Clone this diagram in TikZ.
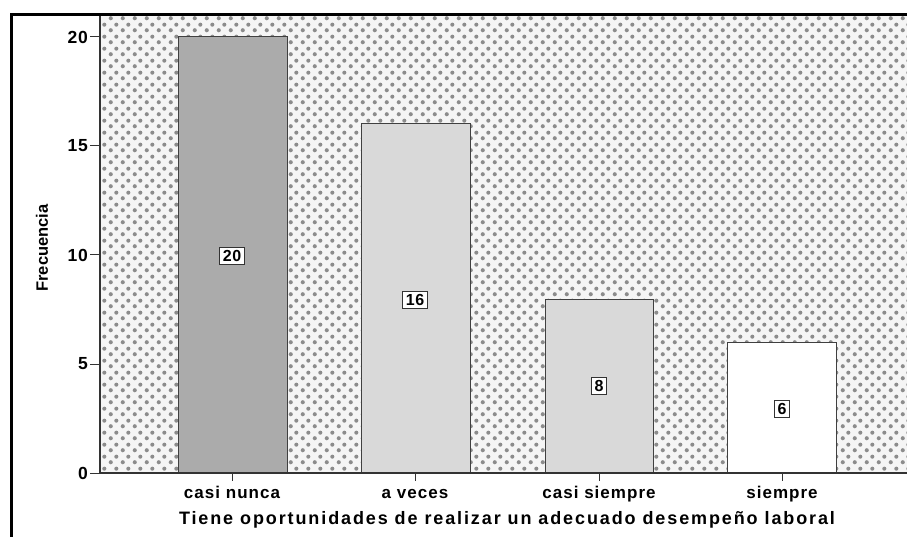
\documentclass[tikz,border=0pt]{standalone}
\usepackage{fontspec}
\setmainfont{Liberation Sans}
\newfontfamily\spssfont[LetterSpace=6]{Liberation Sans}
\newfontfamily\titlefont[LetterSpace=10.5]{Liberation Sans}
\newfontfamily\numfont[LetterSpace=4]{Liberation Sans}
\usetikzlibrary{patterns.meta,positioning}

\pgfdeclarepattern{name=spssdots, type=uncolored,
  bottom left={\pgfpoint{0pt}{0pt}}, top right={\pgfpoint{12pt}{12pt}},
  tile size={\pgfpoint{12pt}{12pt}},
  code={\pgfpathcircle{\pgfpoint{3pt}{3pt}}{2.2pt}
        \pgfpathcircle{\pgfpoint{9pt}{9pt}}{2.2pt}
        \pgfusepath{fill}}}

\tikzset{
  bar/.style={draw=black!75, line width=1pt},
  val/.style={draw=black!80, fill=white, line width=0.8pt, inner sep=3pt,
    font=\numfont\fontsize{16}{16}\selectfont\bfseries},
  ticklab/.style={font=\numfont\fontsize{17.5}{18}\selectfont\bfseries},
  catlab/.style={font=\spssfont\fontsize{17}{18}\selectfont\bfseries, anchor=base}
}

\begin{document}
\begin{tikzpicture}[x=1pt,y=-1pt]
\useasboundingbox (0,0) rectangle (907,537);
% Frame
\fill[white] (0,0) rectangle (907,537);
\fill[black!4] (100,16) rectangle (907,473);
\fill[pattern={spssdots}, pattern color=black!45] (100,16) rectangle (907,473);
\draw[line width=3pt] (11,537) -- (11,15) -- (907,15);
% Bars
\fill[black!33] (178,37) rectangle (287,473);
\draw[bar] (178,473) -- (178,37) -- (287,37) -- (287,473);
\fill[black!15] (361,124) rectangle (470,473);
\draw[bar] (361,473) -- (361,124) -- (470,124) -- (470,473);
\fill[black!15] (545,299) rectangle (653,473);
\draw[bar] (545,473) -- (545,299) -- (653,299) -- (653,473);
\fill[white] (727,342) rectangle (836,473);
\draw[bar] (727,473) -- (727,342) -- (836,342) -- (836,473);
% Axes
\draw[black!80, line width=1.2pt] (100,16) -- (100,473) -- (907,473);
\foreach \v/\yy in {0/473,5/364,10/255,15/146,20/37}{
  \draw[black!80, line width=1pt] (90,\yy) -- (100,\yy);
  \node[ticklab, anchor=east, inner sep=1pt] (t\v) at (89,\yy) {\v};
}
\node[font=\fontsize{16.5}{17}\selectfont\bfseries, rotate=90] (ylab) at (42,248) {Frecuencia};
% Value labels
\node[val] (v1) at (232,256) {20};
\node[val] (v2) at (415,300) {16};
\node[val] (v3) at (599,386) {8};
\node[val] (v4) at (782,409) {6};
% Categories
\foreach \cx/\nm/\txt in {232/c1/casi nunca,415/c2/a veces,599/c3/casi siempre,782/c4/siempre}{
  \draw[black!80, line width=1pt] (\cx,473) -- (\cx,481);
  \node[catlab] (\nm) at (\cx,498) {\txt};
}
\node[catlab, font=\titlefont\fontsize{18}{19}\selectfont\bfseries] (xlab) at (507,524)
  {Tiene oportunidades de realizar un adecuado desempeño laboral};
\end{tikzpicture}
\end{document}
